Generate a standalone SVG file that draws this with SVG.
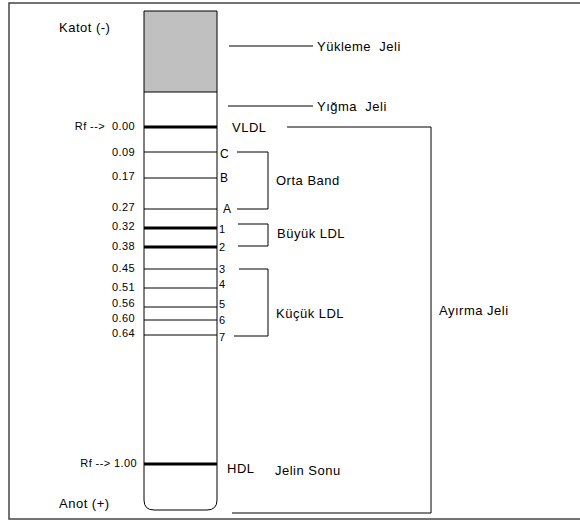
<svg xmlns="http://www.w3.org/2000/svg" width="580" height="520" viewBox="0 0 580 520">
<style>
text{font-family:"Liberation Sans",Arial,sans-serif;fill:#000;dominant-baseline:central;white-space:pre}
.lbl{font-size:13px;letter-spacing:0.5px}
.num{font-size:11px;letter-spacing:0.4px;text-anchor:end}
.tag{font-size:12px;letter-spacing:0.3px}
.thin{stroke:#000;stroke-width:1;fill:none}
.thick{stroke:#000;stroke-width:3;fill:none}
.con{stroke:#000;stroke-width:1;fill:none}
</style>
<rect x="9" y="3" width="580" height="516" fill="#fff" stroke="#444" stroke-width="1.5"/>
<g id="gel">
<rect x="144" y="11" width="73" height="81" fill="#c0c0c0"/>
<path d="M144,11 H217 V500 Q217,510 207,510 H154 Q144,510 144,500 Z" fill="none" stroke="#000" stroke-width="1"/>
<line x1="144" y1="92" x2="217" y2="92" class="thin"/>
</g>
<g id="bands">
<line x1="144" y1="127" x2="217" y2="127" class="thick"/>
<line x1="144" y1="152" x2="217" y2="152" class="thin"/>
<line x1="144" y1="178" x2="217" y2="178" class="thin"/>
<line x1="144" y1="209" x2="217" y2="209" class="thin"/>
<line x1="144" y1="228" x2="217" y2="228" class="thick"/>
<line x1="144" y1="247" x2="217" y2="247" class="thick"/>
<line x1="144" y1="269" x2="217" y2="269" class="thin"/>
<line x1="144" y1="288" x2="217" y2="288" class="thin"/>
<line x1="144" y1="307" x2="217" y2="307" class="thin"/>
<line x1="144" y1="320" x2="217" y2="320" class="thin"/>
<line x1="144" y1="335" x2="217" y2="335" class="thin"/>
<line x1="144" y1="464" x2="217" y2="464" class="thick"/>
</g>
<g id="electrodes">
<text x="59" y="27" class="lbl">Katot (-)</text>
<text x="59" y="503" class="lbl">Anot (+)</text>
</g>
<g id="rf-values">
<text x="135" y="126" class="num">Rf -->  0.00</text>
<text x="135" y="152" class="num">0.09</text>
<text x="135" y="176" class="num">0.17</text>
<text x="135" y="207" class="num">0.27</text>
<text x="135" y="226" class="num">0.32</text>
<text x="135" y="246" class="num">0.38</text>
<text x="135" y="268" class="num">0.45</text>
<text x="135" y="287" class="num">0.51</text>
<text x="135" y="303" class="num">0.56</text>
<text x="135" y="318" class="num">0.60</text>
<text x="135" y="333" class="num">0.64</text>
<text x="137" y="463" class="num">Rf --> 1.00</text>
</g>
<g id="band-tags">
<text x="220" y="154" class="tag">C</text>
<text x="220" y="178" class="tag">B</text>
<text x="223" y="209" class="tag">A</text>
<text x="219" y="229" class="num" style="text-anchor:start">1</text>
<text x="219" y="247" class="num" style="text-anchor:start">2</text>
<text x="219" y="269" class="num" style="text-anchor:start">3</text>
<text x="219" y="284" class="num" style="text-anchor:start">4</text>
<text x="219" y="304" class="num" style="text-anchor:start">5</text>
<text x="219" y="320" class="num" style="text-anchor:start">6</text>
<text x="219" y="337" class="num" style="text-anchor:start">7</text>
</g>
<g id="connectors">
<line x1="229" y1="46" x2="313" y2="46" class="con"/>
<line x1="228" y1="106" x2="313" y2="106" class="con"/>
<path d="M287,127 H431 V513 H232" class="con"/>
<path d="M237,152 H268 V209 H237" class="con"/>
<path d="M238,224 H268 V246 H238" class="con"/>
<path d="M239,269 H268 V336 H234" class="con"/>
</g>
<g id="yukleme"><text x="317" y="46" class="lbl">Yükleme  Jeli</text></g>
<g id="yigma"><text x="317" y="106" class="lbl">Yığma  Jeli</text></g>
<g id="vldl"><text x="232" y="127" class="lbl">VLDL</text></g>
<g id="orta"><text x="276" y="180" class="lbl">Orta Band</text></g>
<g id="buyuk"><text x="277" y="233" class="lbl">Büyük LDL</text></g>
<g id="kucuk"><text x="276" y="313" class="lbl">Küçük LDL</text></g>
<g id="ayirma"><text x="439" y="310" class="lbl">Ayırma Jeli</text></g>
<g id="hdl"><text x="227" y="468" class="lbl">HDL</text></g>
<g id="sonu"><text x="275" y="470" class="lbl">Jelin Sonu</text></g>
</svg>
